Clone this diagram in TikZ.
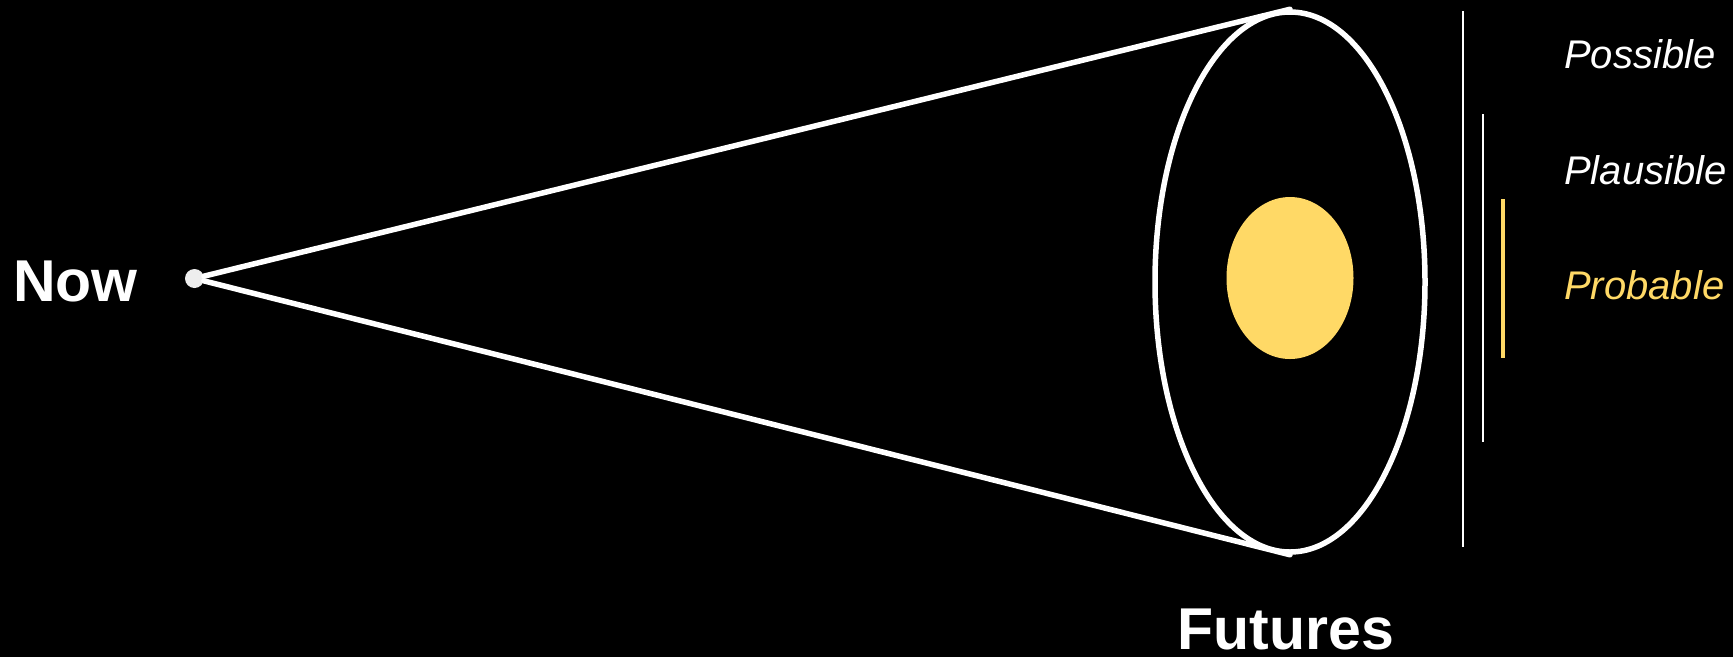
\documentclass[tikz,border=0pt]{standalone}
\usepackage{fontspec}
\setmainfont{Liberation Sans}
\usetikzlibrary{shapes.geometric}
\definecolor{futyellow}{HTML}{FFD966}
\definecolor{dotgrey}{HTML}{EEEEEE}
\tikzset{
  cone/.style={draw=white, line width=5.5pt},
  bigword/.style={text=white, font=\bfseries\fontsize{59}{64}\selectfont, inner sep=0pt},
  label/.style={font=\itshape\fontsize{40}{48}\selectfont, inner sep=0pt, anchor=base west},
  bar/.style={draw=white, line width=2pt}
}
\begin{document}
\begin{tikzpicture}[x=1pt,y=-1pt]
\fill[black] (0,0) rectangle (1733,657);
\useasboundingbox (0,0) rectangle (1733,657);
% nodes
\node[ellipse, fill=futyellow, inner sep=0pt, minimum width=127, minimum height=162] (prob) at (1290,278) {};
\node[ellipse, cone, inner sep=0pt, minimum width=270, minimum height=540] (fut) at (1290,282) {};
\node[circle, fill=dotgrey, inner sep=0pt, minimum size=19] (now) at (194.5,278.5) {};
% cone lines
\draw[cone, line cap=round] (now) -- (fut.north);
\draw[cone, line cap=round] (now) -- (fut.south);
% texts
\node[bigword, anchor=base west] (nowlabel) at (13,301) {Now};
\node[bigword, anchor=base] (futlabel) at (1286,649) {Futures};
\node[label, text=white] (possible) at (1564,68) {Possible};
\node[label, text=white] (plausible) at (1564,184) {Plausible};
\node[label, text=futyellow] (probable) at (1564,299) {Probable};
% bars
\draw[bar] (1463,11) -- (1463,547);
\draw[bar] (1483,114) -- (1483,442);
\draw[draw=futyellow, line width=3.5pt] (1503,199) -- (1503,358);
\end{tikzpicture}
\end{document}
